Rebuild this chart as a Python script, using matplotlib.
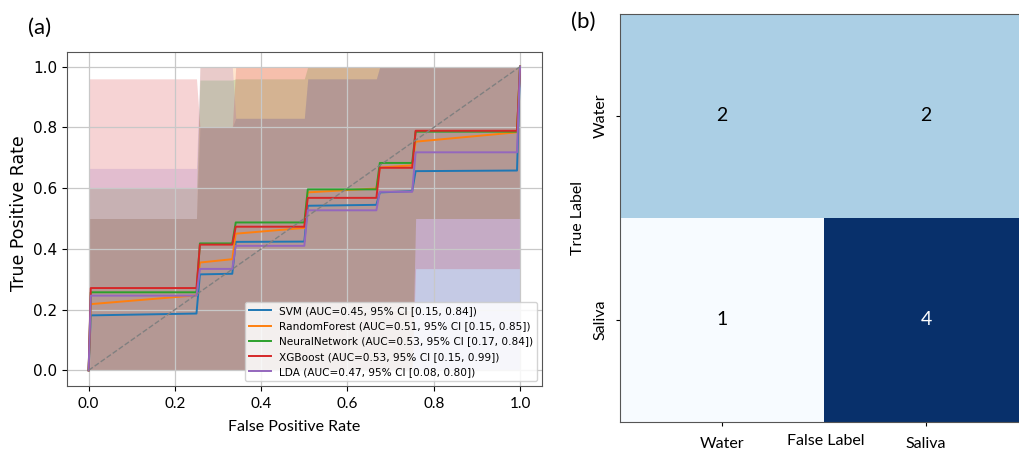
import numpy as np
import matplotlib
matplotlib.use('Agg')
import matplotlib.pyplot as plt

# ROC data
fpr = [0.0, 0.005, 0.25, 0.258, 0.333, 0.341, 0.5, 0.508, 0.667, 0.675, 0.75, 0.758, 0.993, 1.0]

models = ['SVM', 'RandomForest', 'NeuralNetwork', 'XGBoost', 'LDA']
auc = [0.45, 0.51, 0.53, 0.53, 0.47]
ci = [(0.15, 0.84), (0.15, 0.85), (0.17, 0.84), (0.15, 0.99), (0.08, 0.80)]

tpr_svm = [0, 0.181, 0.187, 0.316, 0.318, 0.423, 0.424, 0.542, 0.545, 0.586, 0.59, 0.656, 0.658, 1.0]
tpr_rf = [0, 0.218, 0.247, 0.355, 0.366, 0.45, 0.469, 0.586, 0.599, 0.668, 0.675, 0.753, 0.784, 1.0]
tpr_nn = [0, 0.257, 0.257, 0.418, 0.418, 0.487, 0.487, 0.596, 0.596, 0.683, 0.683, 0.786, 0.786, 1.0]
tpr_xgb = [0, 0.271, 0.271, 0.414, 0.414, 0.473, 0.473, 0.568, 0.568, 0.667, 0.667, 0.789, 0.789, 1.0]
tpr_lda = [0, 0.246, 0.246, 0.334, 0.334, 0.41, 0.41, 0.527, 0.527, 0.588, 0.588, 0.718, 0.718, 1.0]

# confidence bands
up_svm = [0.5, 0.5, 0.5, 0.8, 0.8, 0.83, 0.83, 0.96, 0.96, 1, 1, 1, 1, 1]
up_rf = [0.5, 0.5, 0.5, 1, 1, 1, 1, 1, 1, 1, 1, 1, 1, 1]
up_nn = [0.6, 0.6, 0.6, 0.956, 0.956, 0.96, 0.96, 1, 1, 1, 1, 1, 1, 1]
up_xgb = [0.96, 0.96, 0.96, 0.8, 0.8, 1, 1, 1, 1, 1, 1, 1, 1, 1]
up_lda = [0.665, 0.665, 0.665, 1, 1, 0.83, 0.83, 0.96, 0.96, 1, 1, 1, 1, 1]

lo_svm = [0] * 14
lo_rf = [0, 0, 0, 0, 0, 0, 0, 0, 0, 0, 0, 0.5, 0.5, 0.5]
lo_nn = [0, 0, 0, 0, 0, 0, 0, 0, 0, 0, 0, 0.5, 0.5, 0.5]
lo_xgb = [0, 0, 0, 0, 0, 0, 0, 0, 0, 0, 0, 0.335, 0.335, 0.335]
lo_lda = [0] * 14

tprs = [tpr_svm, tpr_rf, tpr_nn, tpr_xgb, tpr_lda]
uppers = [up_svm, up_rf, up_nn, up_xgb, up_lda]
lowers = [lo_svm, lo_rf, lo_nn, lo_xgb, lo_lda]

# confusion matrix
cm = np.array([[2, 2], [1, 4]])
class_names = ['Water', 'Saliva']

LAT = 'Lato'
DJV = 'DejaVu Sans'

fig = plt.figure(figsize=(10.19, 4.49), dpi=100)

# ---- (a) ROC curves
ax = fig.add_axes([0.0658, 0.1414, 0.4657, 0.7439])
colors = plt.rcParams['axes.prop_cycle'].by_key()['color']
for i in range(len(models)):
    ax.fill_between(fpr, lowers[i], uppers[i], color=colors[i], alpha=0.2, lw=0)
for i in range(len(models)):
    lab = '%s (AUC=%.2f, 95%% CI [%.2f, %.2f])' % (models[i], auc[i], ci[i][0], ci[i][1])
    ax.plot(fpr, tprs[i], color=colors[i], lw=1.4, label=lab)
ax.plot([0, 1], [0, 1], '--', color='grey', lw=1)

ax.set_xlim(-0.05, 1.05)
ax.set_ylim(-0.05, 1.05)
ticks = [0, 0.2, 0.4, 0.6, 0.8, 1.0]
ax.set_xticks(ticks)
ax.set_yticks(ticks)
ax.set_xticklabels(['%.1f' % t for t in ticks], family=LAT, fontsize=11)
ax.set_yticklabels(['%.1f' % t for t in ticks], family=DJV, fontsize=11)
ax.tick_params(axis='x', pad=5)
ax.grid(True, color='#c8c8c8', lw=0.9)
for s in ax.spines.values():
    s.set_color('#555555')
ax.set_xlabel('False Positive Rate', family=LAT, fontsize=11.5, va='center')
ax.xaxis.set_label_coords(0.478, -0.123)
ax.set_ylabel('True Positive Rate', family=DJV, fontsize=12.5, va='center')
ax.yaxis.set_label_coords(-0.101, 0.516)
ax.legend(loc='lower right', prop={'family': DJV, 'size': 7.6}, borderaxespad=0.4,
          framealpha=0.85)

# ---- (b) confusion matrix
bx = fig.add_axes([0.6084, 0.0608, 0.4004, 0.908])
bx.imshow(cm, cmap='Blues', vmin=cm.min(), vmax=cm.max(), aspect='auto')
for r in range(2):
    for k in range(2):
        tc = 'white' if cm[r, k] > 3 else 'black'
        bx.text(k, r, str(cm[r, k]), ha='center', va='center', color=tc,
                family=LAT, fontsize=14)
bx.set_xticks([0, 1])
bx.set_yticks([0, 1])
bx.set_xticklabels(class_names, family=LAT, fontsize=11.5)
bx.set_yticklabels(class_names, family=LAT, fontsize=11.5, rotation=90, va='center')
bx.tick_params(axis='x', pad=8, length=3)
bx.tick_params(axis='y', pad=6, length=3)
for s in bx.spines.values():
    s.set_color('#555555')
bx.set_xlabel('False Label', family=LAT, fontsize=11.5, va='center')
bx.xaxis.set_label_coords(0.505, -0.047)
bx.set_ylabel('True Label', family=LAT, fontsize=11.5, va='center')
bx.yaxis.set_label_coords(-0.103, 0.5)

fig.text(0.039, 0.938, '(a)', family=LAT, fontsize=16, ha='center', va='center')
fig.text(0.572, 0.951, '(b)', family=LAT, fontsize=16, ha='center', va='center')

fig.savefig('out.png', dpi=100)
